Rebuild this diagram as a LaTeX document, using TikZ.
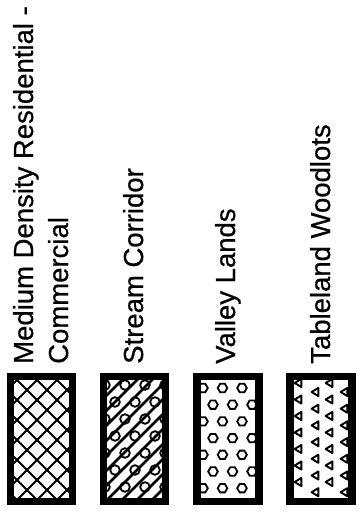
\documentclass[tikz,border=0pt]{standalone}
\usepackage{fontspec}
\setmainfont{Liberation Sans}
\newfontfamily\lblfont[FakeBold=0.6]{Liberation Sans}
\usepackage{tikz}
\usetikzlibrary{positioning}

\begin{document}
\begin{tikzpicture}[x=1pt,y=1pt,
          legbox/.style={draw,line width=7.5pt,minimum width=62pt,
                         minimum height=125pt,inner sep=0pt},
          lbl/.style={rotate=90,anchor=base west,inner sep=0pt,
                      font=\lblfont\fontsize{27.5}{33}\selectfont},
          hatch/.style={line width=2pt},
          stream/.style={line width=2.6pt},
          dotline/.style={line width=1.8pt},
          tri/.style={line width=1.9pt,line join=round}]
        \useasboundingbox (0,0) rectangle (360,516);
        % legend boxes
        \node[legbox](mdrbox) at (41.5,77){};
        \node[legbox](streambox) at (134.5,77){};
        \node[legbox](valleybox) at (228,77){};
        \node[legbox](tablebox) at (321,77){};
        % labels
        \node[lbl](mdrlbl) at (33,152){Medium Density Residential -};
        \node[lbl](mdrlbltwo) at (68,152){Commercial};
        \node[lbl](streamlbl) at (143,152){Stream Corridor};
        \node[lbl](valleylbl) at (235,152){Valley Lands};
        \node[lbl](tablelbl) at (330,152){Tableland Woodlots};
        % crosshatch
        \begin{scope}[shift={(mdrbox.center)}]
          \clip (-27.5,-59) rectangle (27.5,59);
          \foreach \k in {-5,...,5}{
            \draw[hatch] (-80,-80+3.5+20*\k) -- (80,80+3.5+20*\k);
            \draw[hatch] (-80,80+14.5+20*\k) -- (80,-80+14.5+20*\k);
          }
        \end{scope}
        % stream lines and circles
        \begin{scope}[shift={(streambox.center)}]
          \clip (-27.5,-59) rectangle (27.5,59);
          \foreach \k in {-7,...,7}
            \draw[stream] (-80,-80+11.5+15*\k) -- (80,80+11.5+15*\k);
          \foreach \i in {0,2,4,6}
            \foreach \x in {-29.5,-9.5,10.5,30.5}
              \draw[dotline] (\x,54-17*\i) circle (4.8);
          \foreach \i in {1,3,5}
            \foreach \x in {-19.5,0.5,20.5}
              \draw[dotline] (\x,54-17*\i) circle (4.8);
        \end{scope}
        % hexagons
        \begin{scope}[shift={(valleybox.center)}]
          \clip (-27.5,-59) rectangle (27.5,59);
          \foreach \i in {0,...,6}
            \foreach \j in {0,1,2}{
              \pgfmathsetmacro\hx{mod(\i,2)==0 ? -25+19.5*\j : -15+19.5*\j}
              \draw[dotline,shift={(\hx,51-16.7*\i)}] (0:4.8) -- (60:4.8) -- (120:4.8)
                -- (180:4.8) -- (240:4.8) -- (300:4.8) -- cycle;
            }
        \end{scope}
        % triangles
        \begin{scope}[shift={(tablebox.center)}]
          \clip (-27.5,-59) rectangle (27.5,59);
          \foreach \i in {0,...,6}{
            \foreach \x in {-23,8}
              \draw[tri,shift={(\x,56-16.5*\i)}] (-3.4,0) -- (3.4,4.1) -- (3.4,-4.1) -- cycle;
            \foreach \x in {-6,23}
              \draw[tri,shift={(\x,47-16.7*\i)}] (-3.4,0) -- (3.4,4.1) -- (3.4,-4.1) -- cycle;
          }
        \end{scope}
      \end{tikzpicture}
\end{document}
